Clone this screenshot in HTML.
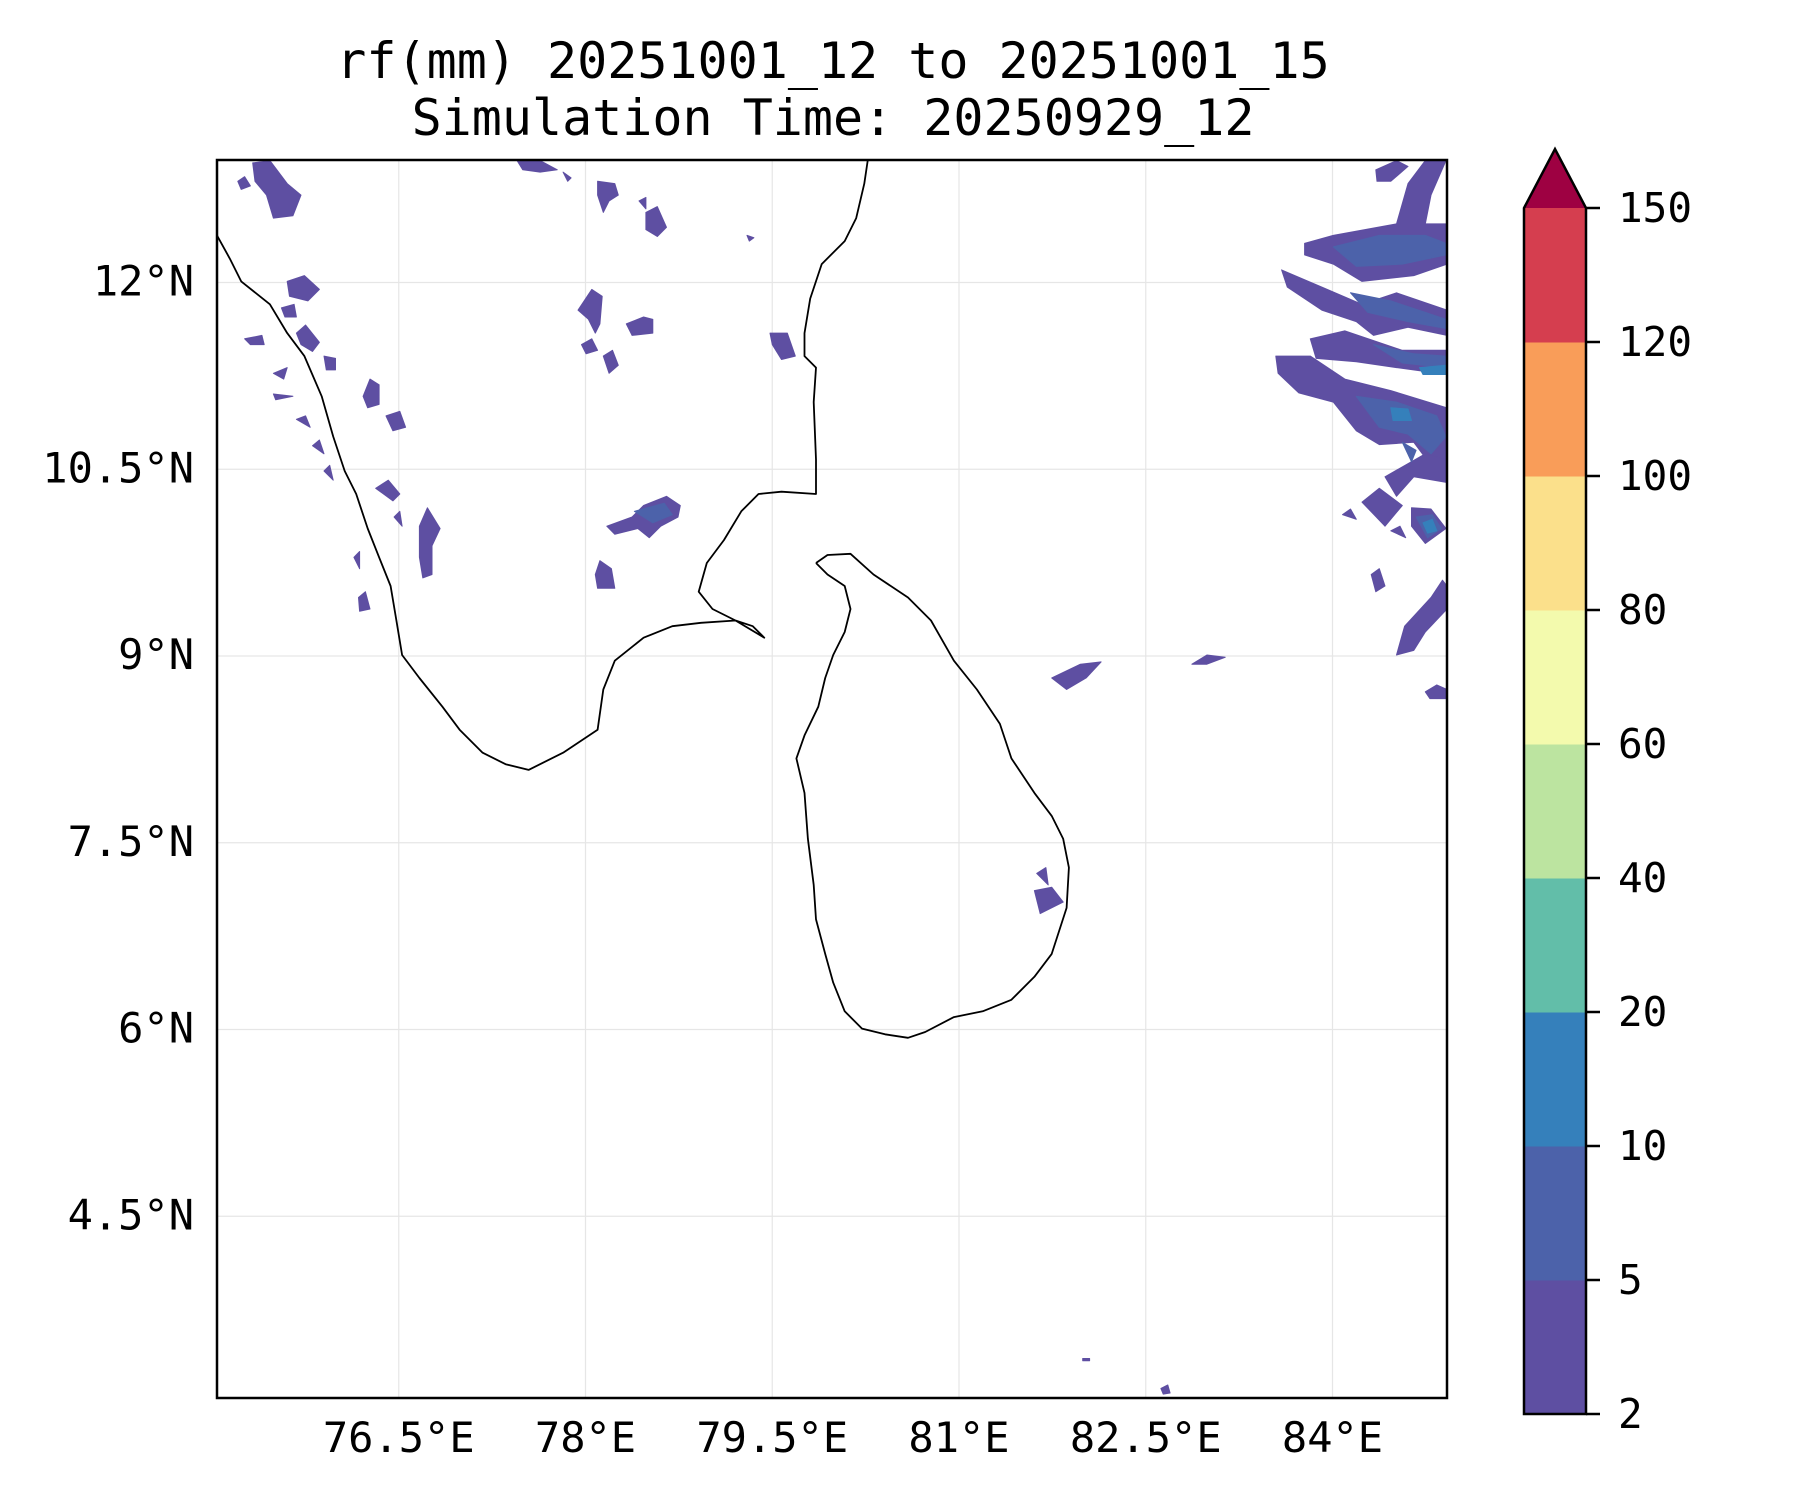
<!DOCTYPE html>
<html><head><meta charset="utf-8"><style>
html,body{margin:0;padding:0;background:#fff;}
svg{display:block;font-family:"DejaVu Sans Mono","Liberation Mono",monospace;}
</style></head><body>
<svg id="chart" width="1800" height="1500" viewBox="0 0 1800 1500">
<text x="833" y="78" font-size="50" text-anchor="middle">rf(mm) 20251001_12 to 20251001_15</text>
<text x="833" y="135" font-size="50" text-anchor="middle">Simulation Time: 20250929_12</text>
<g id="grid"></g>
<g id="rain"></g>
<g id="coast"></g>
<rect x="217" y="160" width="1230" height="1238" fill="none" stroke="#000" stroke-width="2.5"/>
<g id="axes"></g>
<g id="cbar"></g>
</svg>
<script>
const lonTicks=[76.5,78,79.5,81,82.5,84];
const lonLabels=["76.5°E","78°E","79.5°E","81°E","82.5°E","84°E"];
const latTicks=[12,10.5,9,7.5,6,4.5];
const latLabels=["12°N","10.5°N","9°N","7.5°N","6°N","4.5°N"];
const levels=[2,5,10,20,40,60,80,100,120,150];
const levelColors=["#5e4fa2","#4c62aa","#3580bb","#62bea9","#bce4a0","#f3faad","#fbe08b","#f99d59","#d53e4f"];
const extendColor="#9e0142";
// geometry in reference grid units (converted to lon/lat via toLon/toLat)
const indiaCoast=[[188,205],[200,225],[210,245],[235,265],[250,290],[265,310],[280,345],[290,380],[300,410],[310,430],[320,460],[330,485],[340,510],[345,540],[350,570],[365,590],[385,615],[400,635],[420,655],[440,665],[460,670],[490,655],[520,635],[525,600],[535,575],[560,555],[585,545],[610,542],[640,540],[665,555],[655,545],[640,540],[620,530],[608,515],[615,490],[630,470],[645,445],[660,430],[680,428],[710,430],[710,400],[708,350],[710,320],[700,310],[700,290],[705,260],[715,230],[735,210],[745,190],[752,160],[755,140]];
const lankaCoast=[[710,490],[720,483],[740,482],[760,500],[790,520],[810,540],[830,575],[850,600],[870,630],[880,660],[900,690],[915,710],[925,730],[930,755],[928,790],[915,830],[900,850],[880,870],[855,880],[830,885],[805,898],[790,903],[770,900],[750,895],[735,880],[725,855],[718,830],[710,800],[708,770],[703,730],[700,690],[693,660],[700,640],[712,615],[718,590],[725,570],[735,550],[740,530],[735,510],[720,500],[710,490]];
const rainLow=[
[[1135,212],[1160,205],[1215,195],[1225,160],[1240,140],[1258,140],[1245,170],[1240,195],[1260,195],[1260,230],[1230,240],[1185,245],[1160,230],[1135,222]],
[[1115,235],[1150,250],[1185,265],[1215,255],[1260,270],[1260,292],[1225,285],[1195,292],[1180,280],[1150,270],[1120,250]],
[[1140,295],[1170,288],[1220,305],[1260,305],[1260,326],[1215,320],[1180,315],[1145,312]],
[[1110,310],[1140,310],[1170,330],[1210,340],[1260,355],[1260,412],[1245,405],[1230,385],[1200,387],[1180,375],[1160,350],[1130,342],[1112,325]],
[[1205,415],[1240,395],[1260,400],[1260,420],[1230,415],[1215,432]],
[[1228,442],[1245,443],[1258,460],[1240,473],[1228,458]],
[[1185,437],[1200,425],[1220,440],[1205,458]],
[[1215,570],[1222,545],[1245,520],[1255,505],[1260,510],[1260,530],[1240,550],[1230,566]],
[[1240,602],[1250,596],[1260,600],[1260,608],[1244,608]],
[[1193,500],[1200,495],[1205,510],[1197,515]],
[[1168,448],[1175,443],[1180,452]],[[1210,462],[1218,458],[1223,468]],
[[1197,148],[1215,140],[1225,145],[1210,158],[1198,158]],
[[900,775],[915,772],[925,785],[905,795]],[[902,760],[910,755],[912,770]],
[[915,590],[940,578],[958,576],[945,590],[928,600]],
[[1037,578],[1050,570],[1066,572],[1050,578]],
[[220,142],[235,140],[250,160],[262,170],[255,188],[238,190],[232,170],[222,158]],
[[207,158],[213,154],[218,162],[210,165]],
[[250,245],[265,240],[278,252],[268,262],[252,258]],
[[245,268],[256,265],[258,276],[248,276]],
[[258,290],[266,283],[278,298],[272,306],[262,300]],
[[282,310],[292,312],[292,322],[284,322]],
[[213,295],[228,292],[230,300],[218,300]],
[[316,345],[322,330],[330,335],[330,352],[320,355]],
[[336,362],[348,358],[353,372],[342,375]],
[[258,365],[266,362],[270,372]],[[238,343],[255,345],[240,348]],[[238,325],[250,320],[247,330]],
[[272,388],[278,383],[282,395]],[[282,410],[287,405],[290,418]],
[[327,425],[338,418],[348,430],[342,436]],
[[365,458],[372,442],[383,460],[376,475],[376,500],[368,503],[365,485]],
[[343,450],[348,445],[350,458]],[[312,520],[318,515],[322,530],[313,532]],[[308,485],[313,480],[313,495]],
[[450,140],[470,140],[485,148],[470,150],[455,148]],[[490,150],[497,155],[494,158]],
[[520,158],[535,160],[538,170],[530,175],[525,185],[520,170]],[[556,175],[562,172],[562,182]],
[[562,185],[572,180],[580,198],[572,206],[562,200]],[[650,205],[656,207],[652,210]],
[[503,270],[515,252],[524,258],[522,282],[518,290],[512,278]],[[545,282],[560,276],[568,278],[568,290],[550,292]],
[[506,300],[515,295],[520,305],[510,308]],[[525,310],[533,305],[538,318],[530,325]],
[[670,290],[685,290],[692,310],[680,313],[672,300]],
[[528,458],[550,450],[560,440],[580,432],[592,440],[590,450],[575,458],[565,468],[555,460],[535,465]],
[[518,500],[522,488],[532,495],[535,512],[520,512]],
[[1010,1208],[1016,1205],[1018,1212],[1012,1213]],[[942,1182],[948,1182],[948,1184],[942,1184]]
];
const rainMid=[
[[1160,215],[1200,205],[1240,205],[1258,212],[1258,222],[1220,230],[1180,232]],
[[1175,255],[1210,262],[1240,272],[1258,278],[1258,286],[1225,280],[1190,272]],
[[1180,345],[1215,350],[1250,362],[1258,380],[1245,395],[1225,378],[1200,372]],
[[1195,300],[1230,308],[1258,310],[1258,320],[1220,316]],
[[1232,450],[1246,448],[1254,460],[1242,468]],
[[552,445],[578,438],[585,448],[568,455]],
[[1220,385],[1232,392],[1228,402]]
];
const rainHigh=[[[1210,355],[1225,356],[1228,366],[1212,366]],[[1235,320],[1258,318],[1258,326],[1238,326]],[[1238,455],[1246,452],[1250,462],[1242,464]]];

const NS="http://www.w3.org/2000/svg";
const L=217,T=160,S=124.5,R=1447,B=1398;
const X0=212,Y0=158;
const toLon=g=>75+(g[0]-184.6)/108.3, toLat=g=>13-(g[1]-137.7)/108.3;
const X=lon=>X0+(lon-75)*S, Y=lat=>Y0+(13-lat)*S;
function el(tag,attrs,parent){const e=document.createElementNS(NS,tag);for(const k in attrs)e.setAttribute(k,attrs[k]);parent.appendChild(e);return e;}
function pts(arr){return arr.map(g=>Math.min(R,Math.max(L,X(toLon(g)))).toFixed(1)+","+Math.min(B,Math.max(T,Y(toLat(g)))).toFixed(1)).join(" ");}
const grid=document.getElementById('grid');
lonTicks.forEach(v=>{const l=el('line',{x1:X(v),x2:X(v),y1:T,y2:B,stroke:'#e6e6e6','stroke-width':1.2},grid);

});
latTicks.forEach(v=>{const l=el('line',{x1:L,x2:R,y1:Y(v),y2:Y(v),stroke:'#e6e6e6','stroke-width':1.2},grid);

});
const rain=document.getElementById('rain');
[[rainLow,0],[rainMid,1],[rainHigh,2]].forEach(([set,ci])=>set.forEach(p=>{
const e=el('polygon',{points:pts(p),fill:levelColors[ci],'stroke':levelColors[ci],'stroke-width':1,'stroke-linejoin':'round'},rain);

}));
const coast=document.getElementById('coast');
[indiaCoast,lankaCoast].forEach((c,i)=>{const e=el('polyline',{points:pts(c),fill:'none',stroke:'#000','stroke-width':1.8,'stroke-linejoin':'round'},coast);

});
const axes=document.getElementById('axes');
lonTicks.forEach((v,i)=>{const t=el('text',{x:X(v),y:1452,'font-size':42,'text-anchor':'middle'},axes);t.textContent=lonLabels[i];

});
latTicks.forEach((v,i)=>{const t=el('text',{x:194,y:Y(v)+13,'font-size':42,'text-anchor':'end'},axes);t.textContent=latLabels[i];

});
const cb=document.getElementById('cbar');
const cx=1524,cw=62,ctop=208,cbot=1414,step=(cbot-ctop)/(levels.length-1);
const cy=i=>cbot-i*step;
levelColors.forEach((c,i)=>{const r=el('rect',{x:cx,y:cy(i+1),width:cw,height:step+0.5,fill:c},cb);

});
const tri=el('polygon',{points:`${cx},${ctop} ${cx+cw/2},149 ${cx+cw},${ctop}`,fill:extendColor},cb);


const out=el('polygon',{points:`${cx},${cbot} ${cx},${ctop} ${cx+cw/2},149 ${cx+cw},${ctop} ${cx+cw},${cbot}`,fill:'none',stroke:'#000','stroke-width':2.5},cb);


levels.forEach((v,i)=>{const tk=el('line',{x1:cx+cw,x2:cx+cw+14,y1:cy(i),y2:cy(i),stroke:'#000','stroke-width':2.5},cb);


const t=el('text',{x:1618,y:cy(i)+14,'font-size':41},cb);t.textContent=v;

});
</script>
</body></html>
